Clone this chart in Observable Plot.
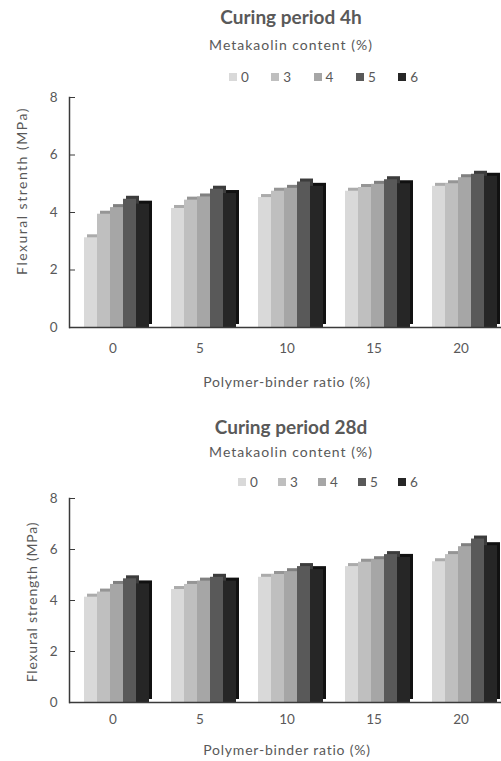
<!DOCTYPE html>
<html>
<head>
<meta charset="utf-8">
<script src="https://cdn.jsdelivr.net/npm/d3@7"></script>
<script src="https://cdn.jsdelivr.net/npm/@observablehq/plot@0.6"></script>
<style>
  html, body { margin: 0; padding: 0; background: #fff; overflow: hidden; }
  #page { position: relative; width: 501px; height: 761px; overflow: hidden; font-family: Lato, "Open Sans", sans-serif; color: #595959; }
  .abs { position: absolute; white-space: nowrap; }
  .ctr { transform: translate(-50%, -50%); }
  .title { font-size: 19px; font-weight: bold; }
  .sub { font-size: 14px; letter-spacing: 1px; }
  .ylab { font-size: 14px; transform: translate(-50%, -50%) rotate(-90deg); }
  .xlab { font-size: 14px; letter-spacing: 0.8px; }
  .legend { display: flex; transform: translateY(-50%); font-size: 13.5px; }
  .legend .item { display: flex; align-items: center; }
  .legend .sw { width: 8px; height: 8px; margin-right: 4px; }
  svg { max-width: none !important; }
</style>
</head>
<body>
<div id="page"></div>
<script>
// ---- data ----
const polymerRatio = [0, 5, 10, 15, 20];          // x categories (%)
const metakaolin = ["0", "3", "4", "5", "6"];       // series (%)

// Curing period 4h (values per polymer-binder ratio 0,5,10,15,20)
const h4_mk0 = [3.12, 4.14, 4.52, 4.74, 4.91];
const h4_mk3 = [3.94, 4.43, 4.74, 4.87, 5.00];
const h4_mk4 = [4.17, 4.54, 4.84, 4.98, 5.21];
const h4_mk5 = [4.46, 4.81, 5.06, 5.14, 5.33];
const h4_mk6 = [4.29, 4.66, 4.91, 5.00, 5.26];

// Curing period 28d
const d28_mk0 = [4.13, 4.43, 4.91, 5.33, 5.52];
const d28_mk3 = [4.33, 4.63, 5.02, 5.50, 5.80];
const d28_mk4 = [4.63, 4.76, 5.13, 5.60, 6.11];
const d28_mk5 = [4.85, 4.91, 5.33, 5.80, 6.41];
const d28_mk6 = [4.65, 4.76, 5.21, 5.69, 6.15];

const yTicks = [0, 2, 4, 6, 8];

// ---- styles ----
const frontColors = ["#d9d9d9", "#bfbfbf", "#a6a6a6", "#595959", "#262626"];
const sideColors  = ["#ababab", "#959595", "#808080", "#3c3c3c", "#111111"];

function buildRows(seriesArrays) {
  return polymerRatio.flatMap((g, i) => metakaolin.map((s, j) => ({g, s, v: seriesArrays[j][i]})));
}

function chart(rows, {height, marginTop, marginBottom, fxPad}) {
  const shadows = metakaolin.map((s, j) =>
    Plot.barY(rows.filter(d => d.s === s), {fx: "g", x: "s", y: "v", fill: sideColors[j], dx: 3, dy: -3}));
  const fronts = metakaolin.map((s, j) =>
    Plot.barY(rows.filter(d => d.s === s), {fx: "g", x: "s", y: "v", fill: frontColors[j]}));
  return Plot.plot({
    width: 505,
    height,
    marginLeft: 67,
    marginRight: 0,
    marginTop,
    marginBottom,
    style: {fontFamily: "Lato, 'Open Sans', sans-serif", fontSize: "13.5px", color: "#595959", background: "transparent", overflow: "visible"},
    fx: {domain: polymerRatio, padding: 0, label: null},
    x: {domain: metakaolin, paddingInner: 0, paddingOuter: 0.78, align: 0.67, axis: null},
    y: {domain: [0, 8], axis: null},
    marks: [
      ...shadows,
      ...fronts,
      Plot.ruleY([0], {stroke: "#3a3a3a", strokeWidth: 1.5}),
      Plot.frame({anchor: "left", facetAnchor: "left", stroke: "#3a3a3a", strokeWidth: 1.5}),
      Plot.axisY({ticks: yTicks, tickSize: 0, tickPadding: 12, label: null, fill: "#595959"}),
      Plot.axisY({ticks: yTicks, tickSize: 6, dx: 6, tickFormat: () => "", label: null, stroke: "#3a3a3a"}),
      Plot.axisFx({anchor: "bottom", tickSize: 0, tickPadding: fxPad, label: null, fill: "#595959"})
    ]
  });
}

function addText(cls, text, x, y, extra = "") {
  const el = document.createElement("div");
  el.className = "abs " + cls;
  el.textContent = text;
  el.style.left = x + "px";
  el.style.top = y + "px";
  if (extra) el.style.cssText += extra;
  page.appendChild(el);
  return el;
}

function addLegend(x, y, itemWidth) {
  const lg = document.createElement("div");
  lg.className = "abs legend";
  lg.style.left = x + "px";
  lg.style.top = y + "px";
  metakaolin.forEach((s, j) => {
    const it = document.createElement("div");
    it.className = "item";
    it.style.width = itemWidth + "px";
    const sw = document.createElement("span");
    sw.className = "sw";
    sw.style.background = frontColors[j];
    const t = document.createElement("span");
    t.textContent = s;
    it.appendChild(sw); it.appendChild(t);
    lg.appendChild(it);
  });
  page.appendChild(lg);
}

const page = document.getElementById("page");

// Chart 1: 4h
addText("title ctr", "Curing period 4h", 291, 16);
addText("sub ctr", "Metakaolin content (%)", 291, 44);
addLegend(229, 77, 42.3);
const svg1 = chart(buildRows([h4_mk0, h4_mk3, h4_mk4, h4_mk5, h4_mk6]), {height: 280, marginTop: 12, marginBottom: 38, fxPad: 16});
svg1.style.position = "absolute"; svg1.style.left = "0px"; svg1.style.top = "85px";
page.appendChild(svg1);
addText("ylab", "Flexural strenth (MPa)", 21, 191, "letter-spacing:1.5px;");
addText("xlab ctr", "Polymer-binder ratio (%)", 287, 381);

// Chart 2: 28d
addText("title ctr", "Curing period 28d", 291, 426);
addText("sub ctr", "Metakaolin content (%)", 291, 451);
addLegend(238, 482, 40);
const svg2 = chart(buildRows([d28_mk0, d28_mk3, d28_mk4, d28_mk5, d28_mk6]), {height: 246, marginTop: 10, marginBottom: 32, fxPad: 12});
svg2.style.position = "absolute"; svg2.style.left = "0px"; svg2.style.top = "488px";
page.appendChild(svg2);
addText("ylab", "Flexural strength (MPa)", 31, 602, "letter-spacing:0.8px;");
addText("xlab ctr", "Polymer-binder ratio (%)", 287, 749);
</script>
</body>
</html>
